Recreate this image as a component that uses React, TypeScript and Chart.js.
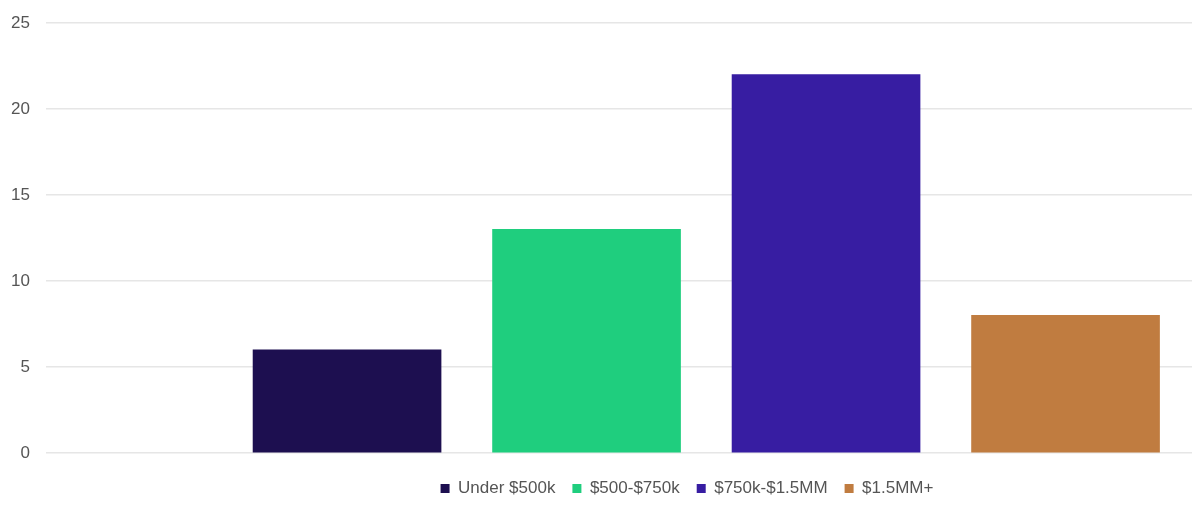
import React, { useEffect, useRef } from 'react';
import { Chart } from 'chart.js/auto';

const categories = ['Under $500k', '$500-$750k', '$750k-$1.5MM', '$1.5MM+'];
const values = [6, 13, 22, 8];
const positions = [1, 2, 3, 4];
const colors = ['#1d0f50', '#1fce7e', '#371da2', '#c07c40'];
const yTicks = [0, 5, 10, 15, 20, 25];

const FONT = '"Liberation Sans", Arial, sans-serif';

// nudges the legend to sit under the bars like in the source
const legendShift = {
  id: 'legendShift',
  afterLayout(chart: any) {
    if (!chart.legend) return;
    chart.legend.left += 91;
    chart.legend.right += 91;
  },
};

export default function App() {
  const canvasRef = useRef<HTMLCanvasElement>(null);
  const chartRef = useRef<Chart | null>(null);

  useEffect(() => {
    document.body.style.margin = '0';
    const el = canvasRef.current;
    if (!el) return;

    chartRef.current = new Chart(el, {
      type: 'bar',
      data: {
        datasets: categories.map((name, i) => ({
          label: name,
          data: [{ x: positions[i], y: values[i] }],
          backgroundColor: colors[i],
          borderWidth: 0,
          barThickness: 188,
          grouped: false,
        })),
      },
      options: {
        responsive: true,
        maintainAspectRatio: false,
        animation: false,
        layout: { padding: { top: 23, right: 8, bottom: 10, left: 0 } },
        scales: {
          x: {
            type: 'linear',
            min: -0.257,
            max: 4.528,
            offset: false,
            ticks: { display: false },
            grid: { display: false },
            border: { display: false },
            afterFit: (scale: any) => {
              scale.height = 10;
            },
          },
          y: {
            min: yTicks[0],
            max: yTicks[yTicks.length - 1],
            ticks: {
              stepSize: 5,
              padding: 16,
              color: '#555',
              font: { family: FONT, size: 17 },
            },
            grid: { color: '#e6e6e6', drawTicks: false, lineWidth: 1.5 },
            border: { display: false },
            afterFit: (scale: any) => {
              scale.width = 46;
              scale.paddingTop = 0;
              scale.paddingBottom = 0;
            },
          },
        },
        plugins: {
          legend: {
            position: 'bottom',
            labels: {
              boxWidth: 9,
              boxHeight: 9,
              padding: 17,
              color: '#555',
              font: { family: FONT, size: 17 },
            },
          },
          tooltip: { enabled: false },
        },
      },
      plugins: [legendShift],
    });

    return () => {
      chartRef.current?.destroy();
      chartRef.current = null;
    };
  }, []);

  return (
    <div style={{ width: '1200px', height: '517px', position: 'relative' }}>
      <canvas ref={canvasRef} />
    </div>
  );
}
